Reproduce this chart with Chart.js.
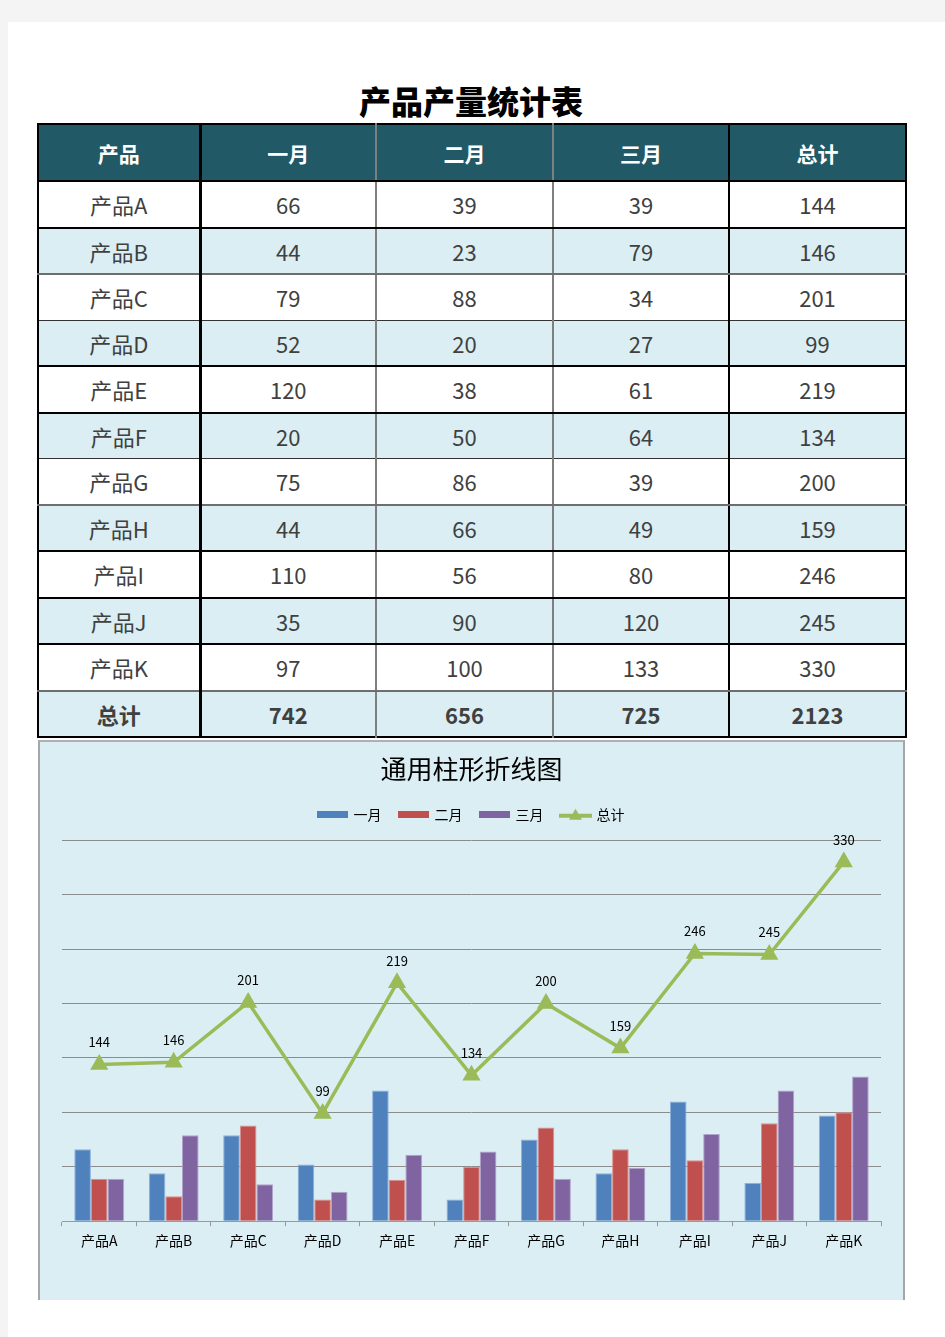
<!DOCTYPE html>
<html>
<head>
<meta charset="utf-8">
<script src="https://cdn.jsdelivr.net/npm/chart.js@4/dist/chart.umd.min.js"></script>
<style>
  html, body { margin: 0; padding: 0; }
  body { width: 945px; height: 1337px; background: #f4f4f4; position: relative; overflow: hidden;
         font-family: 'Noto Sans CJK SC', 'Noto Sans', sans-serif; }
  #paper { position: absolute; left: 8px; top: 22px; width: 937px; height: 1315px; background: #fff; }
  #title { position: absolute; left: 37px; width: 868px; top: 76px; text-align: center;
           font-size: 32px; font-weight: 900; color: #000; line-height: 48px; letter-spacing: 0px; }
  table { position: absolute; left: 37px; top: 123px; width: 868px; border-collapse: collapse; table-layout: fixed;
          border: 2px solid #000; }
  td, th { text-align: center; padding: 0; font-size: 22px; color: #404040; font-weight: 400; }
  th { background: #215967; color: #fff; font-weight: 700; height: 55px; border-bottom: 2px solid #000; font-size: 21px; }
  td { height: 44.5px; line-height: 26px; }
  tr.alt td { background: #DAEEF3; }
  tr.tot td { font-weight: 700; }
  .c1 { border-right: 3px solid #000; }
  .c2, .c3 { border-right: 2px solid #7f7f7f; }
  .c4 { border-right: 2px solid #000; }
  tr.b2 td { border-bottom: 2px solid #000; }
  tr.b1 td { border-bottom: 1px solid #333; }
  tr.bg td { border-bottom: 2px solid #6e6e6e; }
  #box { position: absolute; left: 38px; top: 740px; width: 863px; height: 558px; background: #DBEEF4;
         border-left: 2px solid #a6a6a6; border-right: 2px solid #a6a6a6; border-top: 2px solid #b0b0b0; }
  #chart { position: absolute; left: 38px; top: 740px; }
</style>
</head>
<body>
<div id="paper"></div>
<div id="title">产品产量统计表</div>
<div id="box"></div>
<table id="tbl"></table>
<canvas id="chart" width="867" height="557"></canvas>
<script>
const categories = ['产品A','产品B','产品C','产品D','产品E','产品F','产品G','产品H','产品I','产品J','产品K'];
const seriesNames = ['一月','二月','三月','总计'];
const jan = [66, 44, 79, 52, 120, 20, 75, 44, 110, 35, 97];
const feb = [39, 23, 88, 20, 38, 50, 86, 66, 56, 90, 100];
const mar = [39, 79, 34, 27, 61, 64, 39, 49, 80, 120, 133];
const total = [144, 146, 201, 99, 219, 134, 200, 159, 246, 245, 330];
const colTotals = [742, 656, 725, 2123];
const yTicks = [0, 50, 100, 150, 200, 250, 300, 350];

// ---- table ----
const rowBorders = ['b2','bg','b1','b2','b2','b1','bg','b2','b2','b2','bg'];
let html = '<colgroup><col style="width:162px"><col style="width:176px"><col style="width:177px"><col style="width:176px"><col style="width:177px"></colgroup>';
html += '<tr><th class="c1">产品</th><th class="c2">一月</th><th class="c3">二月</th><th class="c4">三月</th><th>总计</th></tr>';
categories.forEach((c, i) => {
  html += `<tr class="${i % 2 ? 'alt ' : ''}${rowBorders[i]}"><td class="c1">${c}</td><td class="c2">${jan[i]}</td><td class="c3">${feb[i]}</td><td class="c4">${mar[i]}</td><td>${total[i]}</td></tr>`;
});
html += `<tr class="alt tot"><td class="c1">总计</td><td class="c2">${colTotals[0]}</td><td class="c3">${colTotals[1]}</td><td class="c4">${colTotals[2]}</td><td>${colTotals[3]}</td></tr>`;
document.getElementById('tbl').innerHTML = html;

// ---- legend icons ----
function barIcon(color) {
  const c = document.createElement('canvas'); c.width = 31; c.height = 7;
  const x = c.getContext('2d'); x.fillStyle = color; x.fillRect(0, 0, 31, 7);
  return c;
}
function lineIcon(color) {
  const c = document.createElement('canvas'); c.width = 33; c.height = 13;
  const x = c.getContext('2d');
  x.strokeStyle = color; x.lineWidth = 4; x.beginPath(); x.moveTo(0, 8); x.lineTo(33, 8); x.stroke();
  x.fillStyle = color; x.beginPath(); x.moveTo(16.5, 1); x.lineTo(23, 12); x.lineTo(10, 12); x.closePath(); x.fill();
  return c;
}
const colors = ['#4F81BD', '#C0504D', '#8064A2', '#9BBB59'];
const borders = ['#8FB0DA', '#DA8F8D', '#B3A2C9', '#9BBB59'];
const icons = [barIcon(colors[0]), barIcon(colors[1]), barIcon(colors[2]), lineIcon(colors[3])];

const labelPlugin = {
  id: 'totLabels',
  afterDatasetsDraw(chart) {
    const meta = chart.getDatasetMeta(3);
    const ctx = chart.ctx;
    ctx.save();
    ctx.font = "13px 'Noto Sans CJK SC', sans-serif";
    ctx.fillStyle = '#000';
    ctx.textAlign = 'center';
    ctx.textBaseline = 'middle';
    meta.data.forEach((pt, i) => ctx.fillText(String(total[i]), pt.x, pt.y - 22));
    ctx.restore();
  }
};
const legendGap = {
  id: 'legendGap',
  beforeInit(chart) {
    const orig = chart.legend.fit;
    chart.legend.fit = function () { orig.bind(chart.legend)(); this.height += 9; };
  }
};

Chart.defaults.font.family = "'Noto Sans CJK SC', 'Noto Sans', sans-serif";
Chart.defaults.color = '#000';

new Chart(document.getElementById('chart'), {
  type: 'bar',
  data: {
    labels: categories,
    datasets: [
      { label: seriesNames[0], data: jan, backgroundColor: colors[0], borderColor: borders[0], borderWidth: 1, order: 1 },
      { label: seriesNames[1], data: feb, backgroundColor: colors[1], borderColor: borders[1], borderWidth: 1, order: 1 },
      { label: seriesNames[2], data: mar, backgroundColor: colors[2], borderColor: borders[2], borderWidth: 1, order: 1 },
      { type: 'line', label: seriesNames[3], data: total, borderColor: colors[3], backgroundColor: colors[3],
        borderWidth: 3.5, pointStyle: 'triangle', pointRadius: 7, pointHoverRadius: 7, tension: 0, order: 0 }
    ]
  },
  options: {
    responsive: false,
    animation: false,
    devicePixelRatio: 1,
    categoryPercentage: 0.67,
    barPercentage: 1,
    layout: { padding: { left: 24, right: 24, top: 0, bottom: 42 } },
    plugins: {
      tooltip: { enabled: false },
      title: { display: true, text: '通用柱形折线图', color: '#000',
               font: { size: 26, weight: 'normal', lineHeight: 1.2 }, padding: { top: 14, bottom: 4 } },
      legend: {
        display: true, position: 'top',
        labels: {
          usePointStyle: true, pointStyleWidth: 28, boxHeight: 14, padding: 18, color: '#000',
          font: { size: 14 },
          generateLabels(chart) {
            return chart.data.datasets.map((d, i) => ({
              text: d.label, pointStyle: icons[i], fillStyle: colors[i], strokeStyle: colors[i],
              lineWidth: 0, hidden: false, datasetIndex: i, fontColor: '#000'
            }));
          }
        }
      }
    },
    scales: {
      x: {
        grid: { display: true, drawOnChartArea: false, drawTicks: true, tickLength: 5, color: '#999', offset: true },
        border: { display: true, color: '#999', width: 1 },
        ticks: { padding: 6, font: { size: 14 }, color: '#000', maxRotation: 0, autoSkip: false }
      },
      y: {
        min: yTicks[0], max: yTicks[yTicks.length - 1],
        afterBuildTicks(axis) { axis.ticks = yTicks.map(v => ({ value: v })); },
        grid: { color: '#8c8c8c', lineWidth: 1, drawTicks: false },
        border: { display: false },
        ticks: { display: false }
      }
    }
  },
  plugins: [labelPlugin, legendGap]
});
</script>
</body>
</html>
